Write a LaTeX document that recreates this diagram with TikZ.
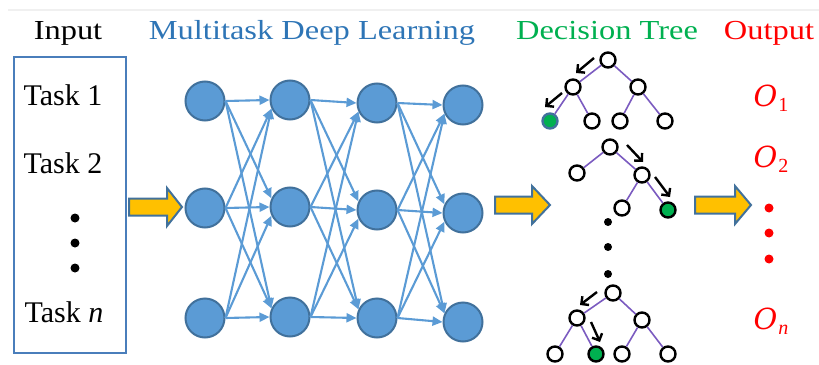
\documentclass[tikz,border=0pt]{standalone}
\usepackage{fontspec}
\setmainfont{Liberation Serif}
\newfontfamily\headfont[FakeStretch=1.18]{Liberation Serif}
\newfontfamily\osymfont{DejaVu Serif}
\usetikzlibrary{arrows.meta}
\definecolor{nnblue}{HTML}{5B9BD5}
\definecolor{nnline}{HTML}{41719C}
\definecolor{hblue}{HTML}{2E75B6}
\definecolor{tgreen}{HTML}{00B050}
\definecolor{tpurple}{HTML}{7B5BC0}
\definecolor{ayellow}{HTML}{FFC000}
\definecolor{boxblue}{HTML}{4A7EBB}
\newcommand\yarw[4]{% x1, xhead, x2, yc
  \filldraw[yarrowstyle] (#1,#4-8.5) -- (#2,#4-8.5) -- (#2,#4-19) -- (#3,#4) -- (#2,#4+19) -- (#2,#4+8.5) -- (#1,#4+8.5) -- cycle;}
\newcommand\osym[1]{{\osymfont\itshape O}\kern1pt\raisebox{-5pt}{\fontsize{20}{21}\selectfont #1}}
\begin{document}
\begin{tikzpicture}[x=1pt,y=-1pt,
  heading/.style={font=\headfont\fontsize{27.5}{30}\selectfont,anchor=base,inner sep=0},
  tasktext/.style={font=\fontsize{30}{32}\selectfont,anchor=base,inner sep=0},
  outtext/.style={font=\fontsize{29}{33}\selectfont,text=red,anchor=base,inner sep=0},
  neuron/.style={circle,draw=nnline,fill=nnblue,line width=2pt,minimum size=39pt,inner sep=0},
  nnarrow/.style={draw=nnblue,line width=2.1pt,-{Triangle[length=10pt,width=9pt]}},
  tnode/.style={circle,draw=black,fill=white,line width=2.4pt,minimum size=15pt,inner sep=0},
  gnode/.style={tnode,fill=tgreen},
  tedge/.style={draw=tpurple,line width=1.6pt},
  tarrow/.style={draw=black,line width=2.4pt,-{Straight Barb[length=5.5pt,width=11pt]}},
  yarrowstyle/.style={fill=ayellow,draw=nnline,line width=2pt,line join=miter},
  dotstyle/.style={circle,fill=black,inner sep=0,minimum size=9pt}]
\useasboundingbox (0,0) rectangle (819,364);
\draw[gray!12,line width=2pt] (8,10) -- (819,10);

% headings
\node[heading] (hin) at (68,39) {Input};
\node[heading,text=hblue] (hnn) at (312,39) {Multitask Deep Learning};
\node[heading,text=tgreen] (htr) at (607,39) {Decision Tree};
\node[heading,text=red] (hout) at (769,39) {Output};

% input box
\draw[boxblue,line width=2.4pt] (14,57) rectangle (126,353);
\node[tasktext] (t1) at (63,105) {Task 1};
\node[tasktext] (t2) at (63,173) {Task 2};
\node[tasktext] (tn) at (64,322) {Task \textit{n}};
\node[dotstyle] (d1) at (75,218) {};
\node[dotstyle] (d2) at (75,243) {};
\node[dotstyle] (d3) at (75,268) {};

% yellow arrows
\yarw{129}{167}{182}{207}
\yarw{495}{532}{550}{205}
\yarw{695}{735}{751}{205}

% neural network
\node[neuron] (n11) at (205,101) {};
\node[neuron] (n12) at (205,208) {};
\node[neuron] (n13) at (205,318) {};
\node[neuron] (n21) at (290,100) {};
\node[neuron] (n22) at (290,207) {};
\node[neuron] (n23) at (290,317) {};
\node[neuron] (n31) at (377,103) {};
\node[neuron] (n32) at (377,210) {};
\node[neuron] (n33) at (377,318) {};
\node[neuron] (n41) at (463,105) {};
\node[neuron] (n42) at (463,213) {};
\node[neuron] (n43) at (463,322) {};
\foreach \c/\d in {1/2,2/3,3/4}{
  \foreach \i in {1,2,3}{
    \foreach \j in {1,2,3}{
      \ifnum\j>\i \def\ang{155}\else\ifnum\j=\i \def\ang{180}\else\def\ang{205}\fi\fi
      \draw[nnarrow] (n\c\i.east) -- (n\d\j.\ang);
    }
  }
}

% tree 1
\node[tnode] (a0) at (608,60) {};
\node[tnode] (a1) at (573,87) {};
\node[tnode] (a2) at (638,87) {};
\node[gnode,draw=nnline] (a3) at (550,121) {};
\node[tnode] (a4) at (592,121) {};
\node[tnode] (a5) at (620,121) {};
\node[tnode] (a6) at (665,121) {};
\draw[tedge] (a0) -- (a1) (a0) -- (a2) (a1) -- (a3) (a1) -- (a4) (a2) -- (a5) (a2) -- (a6);
\draw[tarrow] (594,58) -- (576,73);
\draw[tarrow] (562,93) -- (545,107);

% tree 2
\node[tnode] (b0) at (610,147) {};
\node[tnode] (b1) at (577,173) {};
\node[tnode] (b2) at (642,175) {};
\node[tnode] (b3) at (622,208) {};
\node[gnode] (b4) at (668,210) {};
\draw[tedge] (b0) -- (b1) (b0) -- (b2) (b2) -- (b3) (b2) -- (b4);
\draw[tarrow] (627,145) -- (643,162);
\draw[tarrow] (655,177) -- (670,197);

% tree dots
\node[dotstyle,minimum size=8pt] (e1) at (608,222) {};
\node[dotstyle,minimum size=8pt] (e2) at (608,247) {};
\node[dotstyle,minimum size=8pt] (e3) at (608,274) {};

% tree 3
\node[tnode] (c0) at (613,293) {};
\node[tnode] (c1) at (577,318) {};
\node[tnode] (c2) at (642,320) {};
\node[tnode] (c3) at (555,354) {};
\node[gnode] (c4) at (596,354) {};
\node[tnode] (c5) at (622,354) {};
\node[tnode] (c6) at (668,354) {};
\draw[tedge] (c0) -- (c1) (c0) -- (c2) (c1) -- (c3) (c1) -- (c4) (c2) -- (c5) (c2) -- (c6);
\draw[tarrow] (597,292) -- (580,305);
\draw[tarrow] (591,322) -- (600,342);

% outputs
\node[outtext] (o1) at (771,106) {\osym{1}};
\node[outtext] (o2) at (771,167) {\osym{2}};
\node[outtext] (on) at (771,329) {\osym{\textit{n}}};
\node[dotstyle,fill=red] (r1) at (769,208) {};
\node[dotstyle,fill=red] (r2) at (769,233) {};
\node[dotstyle,fill=red] (r3) at (769,259) {};
\end{tikzpicture}
\end{document}
